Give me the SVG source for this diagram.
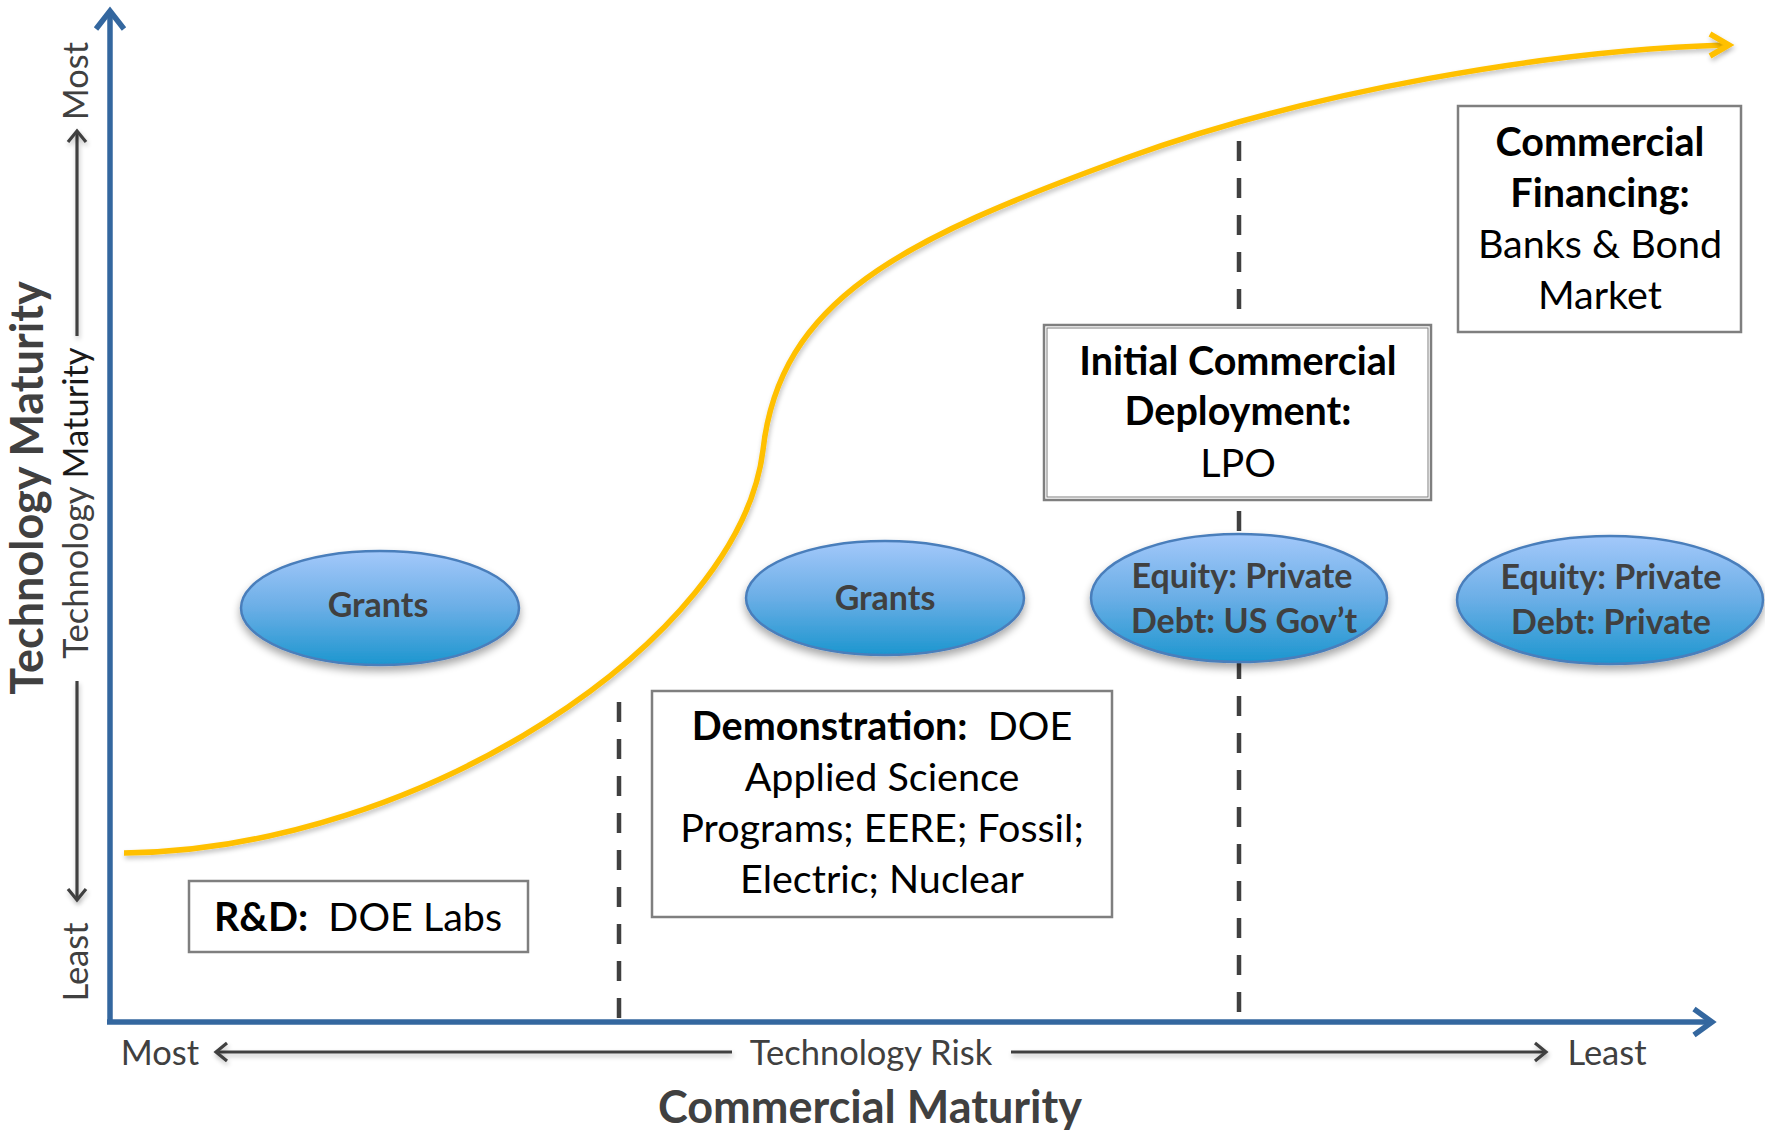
<svg xmlns="http://www.w3.org/2000/svg" width="1765" height="1130" viewBox="0 0 1765 1130">
  <defs>
    <style>
      .t { font-family: Lato, "Liberation Sans", Arial, sans-serif; white-space: pre; }
      .box { fill: #ffffff; stroke: #7f7f7f; stroke-width: 2.5; }
      .boxtxt { font-size: 39.5px; fill: #000000; text-anchor: middle; }
      .b { font-weight: bold; }
      .ell { fill: url(#blueGrad); stroke: #4a7ebb; stroke-width: 2.5; filter: url(#shadow); }
      .elltxt { font-weight: bold; fill: #404040; text-anchor: middle; }
      .axis { fill: none; stroke: #34679f; stroke-width: 5.5; stroke-linecap: butt; }
      .axhead { fill: none; stroke: #34679f; stroke-width: 5.5; stroke-linejoin: miter; }
      .garrow { fill: none; stroke: #404040; stroke-width: 3.2; filter: url(#softshadow); }
      .dash { fill: none; stroke: #404040; stroke-width: 4.5; stroke-dasharray: 20 17; }
      .curve { fill: none; stroke: #ffc000; stroke-width: 5.5; filter: url(#softshadow); }
      .axlbl { fill: #404040; }
    </style>
    <linearGradient id="blueGrad" x1="0" y1="0" x2="0" y2="1">
      <stop offset="0" stop-color="#a3c8fa"/>
      <stop offset="0.5" stop-color="#6aaee6"/>
      <stop offset="1" stop-color="#1c96cf"/>
    </linearGradient>
    <filter id="shadow" x="-20%" y="-20%" width="140%" height="160%">
      <feGaussianBlur in="SourceAlpha" stdDeviation="4"/>
      <feOffset dx="0" dy="5" result="b"/>
      <feComponentTransfer><feFuncA type="linear" slope="0.35"/></feComponentTransfer>
      <feMerge><feMergeNode/><feMergeNode in="SourceGraphic"/></feMerge>
    </filter>
    <filter id="softshadow" filterUnits="userSpaceOnUse" x="0" y="0" width="1765" height="1130">
      <feGaussianBlur in="SourceAlpha" stdDeviation="2.5"/>
      <feOffset dx="1" dy="3" result="b"/>
      <feComponentTransfer><feFuncA type="linear" slope="0.25"/></feComponentTransfer>
      <feMerge><feMergeNode/><feMergeNode in="SourceGraphic"/></feMerge>
    </filter>
  </defs>

  <rect x="0" y="0" width="1765" height="1130" fill="#ffffff"/>

  <!-- connectors / axes / guides -->
  <g id="connectors">
    <!-- dashed phase dividers -->
    <line class="dash" x1="619" y1="702" x2="619" y2="1022"/>
    <line class="dash" x1="1239" y1="141" x2="1239" y2="1022"/>

    <!-- yellow S-curve -->
    <path class="curve" d="M124,853 C420,850 740,640 763,450 C780,300 900,240 1126,158 C1307,92 1550,50 1726,45"/>
    <path class="curve" d="M1710,34 L1729,45 L1710,56"/>

    <!-- axes -->
    <path class="axis" d="M110,1024 L110,14"/>
    <path class="axhead" d="M96,29 L110,11 L124,29"/>
    <path class="axis" d="M107,1022 L1710,1022"/>
    <path class="axhead" d="M1694,1009 L1712,1022 L1694,1035"/>

    <!-- technology maturity arrows -->
    <path class="garrow" d="M77,336 L77,132"/>
    <path class="garrow" d="M68,142 L77,131 L86,142"/>
    <path class="garrow" d="M77,681 L77,899"/>
    <path class="garrow" d="M68,889 L77,900 L86,889"/>

    <!-- technology risk arrows -->
    <path class="garrow" d="M732,1052 L217,1052"/>
    <path class="garrow" d="M227,1043 L216,1052 L227,1061"/>
    <path class="garrow" d="M1011,1052 L1545,1052"/>
    <path class="garrow" d="M1535,1043 L1546,1052 L1535,1061"/>
  </g>

  <!-- axis labels -->
  <g id="axis-labels" class="t">
    <text class="axlbl b" x="43" y="488" font-size="45" text-anchor="middle" transform="rotate(-90 43 488)">Technology Maturity</text>
    <text x="88" y="503" font-size="34.5" text-anchor="middle" transform="rotate(-90 88 503)"><tspan fill="#404040">Technology </tspan><tspan fill="#1a1a1a">Maturity</tspan></text>
    <text class="axlbl" x="88" y="81" font-size="34.5" text-anchor="middle" transform="rotate(-90 88 81)">Most</text>
    <text class="axlbl" x="88" y="962" font-size="34.5" text-anchor="middle" transform="rotate(-90 88 962)">Least</text>
    <text class="axlbl" x="160" y="1065" font-size="34.5" text-anchor="middle">Most</text>
    <text class="axlbl" x="871" y="1065" font-size="34.5" text-anchor="middle">Technology Risk</text>
    <text class="axlbl" x="1607" y="1065" font-size="34.5" text-anchor="middle">Least</text>
    <text class="axlbl b" x="870" y="1123" font-size="45" text-anchor="middle">Commercial Maturity</text>
  </g>

  <!-- nodes -->
  <g id="node-rd">
    <rect class="box" x="189" y="881" width="339" height="71"/>
    <text class="t boxtxt" x="358" y="931"><tspan class="b">R&amp;D:</tspan>  DOE Labs</text>
  </g>

  <g id="node-demo">
    <rect class="box" x="652" y="691" width="460" height="226"/>
    <text class="t boxtxt" x="882" y="740"><tspan class="b">Demonstration:</tspan>  DOE</text>
    <text class="t boxtxt" x="882" y="791">Applied Science</text>
    <text class="t boxtxt" x="882" y="842">Programs; EERE; Fossil;</text>
    <text class="t boxtxt" x="882" y="893">Electric; Nuclear</text>
  </g>

  <g id="node-initial">
    <rect class="box" x="1044" y="325" width="387" height="175"/>
    <rect x="1047" y="328" width="381" height="169" fill="none" stroke="#7f7f7f" stroke-width="1"/>
    <text class="t boxtxt b" x="1238" y="375">Initial Commercial</text>
    <text class="t boxtxt b" x="1238" y="425">Deployment:</text>
    <text class="t boxtxt" x="1238" y="477">LPO</text>
  </g>

  <g id="node-commercial">
    <rect class="box" x="1458" y="106" width="283" height="226"/>
    <text class="t boxtxt b" x="1600" y="156">Commercial</text>
    <text class="t boxtxt b" x="1600" y="207">Financing:</text>
    <text class="t boxtxt" x="1600" y="258">Banks &amp; Bond</text>
    <text class="t boxtxt" x="1600" y="309">Market</text>
  </g>

  <g id="node-grants1">
    <ellipse class="ell" cx="380" cy="608" rx="139" ry="57"/>
    <text class="t elltxt" x="378" y="617" font-size="34">Grants</text>
  </g>

  <g id="node-grants2">
    <ellipse class="ell" cx="885" cy="598" rx="139" ry="57"/>
    <text class="t elltxt" x="885" y="610" font-size="34">Grants</text>
  </g>

  <g id="node-equity-gov">
    <ellipse class="ell" cx="1239" cy="598" rx="148" ry="64"/>
    <text class="t elltxt" x="1242" y="588" font-size="34">Equity: Private</text>
    <text class="t elltxt" x="1244" y="633" font-size="34">Debt: US Gov’t</text>
  </g>

  <g id="node-equity-private">
    <ellipse class="ell" cx="1610" cy="600" rx="153" ry="64"/>
    <text class="t elltxt" x="1611" y="589" font-size="34">Equity: Private</text>
    <text class="t elltxt" x="1611" y="634" font-size="34">Debt: Private</text>
  </g>
</svg>
